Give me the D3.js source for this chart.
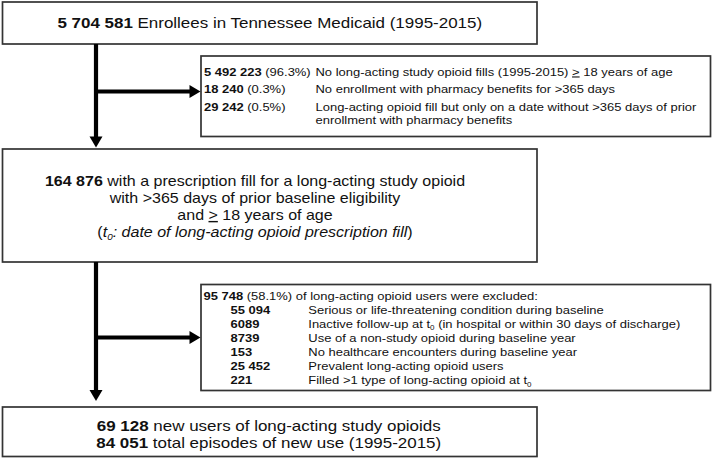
<!DOCTYPE html>
<html><head><meta charset="utf-8">
<script src="https://cdn.jsdelivr.net/npm/d3@7/dist/d3.min.js"></script>
<style>body{margin:0;background:#fff}svg{display:block}text{font-family:"Liberation Sans",Arial,sans-serif;fill:#111}</style>
</head><body><svg id="c" width="713" height="461"></svg>
<script>
// ---- data ----
const totalEnrollees = "5 704 581";
const cohortCount = "164 876";
const finalUsers = "69 128";
const finalEpisodes = "84 051";
const excl1Counts = ["5 492 223", "18 240", "29 242"];
const excl1Pcts = ["(96.3%)", "(0.3%)", "(0.5%)"];
const excl1Labels = [
  ["No long-acting study opioid fills (1995-2015) |>| 18 years of age"],
  ["No enrollment with pharmacy benefits for >365 days"],
  ["Long-acting opioid fill but only on a date without >365 days of prior", "enrollment with pharmacy benefits"]
];
const excl2Total = "95 748";
const excl2Pct = "(58.1%)";
const excl2Counts = ["55 094", "6089", "8739", "153", "25 452", "221"];
const excl2Labels = [
  "Serious or life-threatening condition during baseline",
  "Inactive follow-up at t_0 (in hospital or within 30 days of discharge)",
  "Use of a non-study opioid during baseline year",
  "No healthcare encounters during baseline year",
  "Prevalent long-acting opioid users",
  "Filled >1 type of long-acting opioid at t_0"
];

const svg = d3.select("#c");
const SX = 1.17;

// rich text helper: segs = [{t, b, i, u, sub}]
function rich(x, y, segs, size, anchor, sx) {
  const g = svg.append("g").attr("transform", `translate(${x},${y}) scale(${sx||SX},1)`);
  const t = g.append("text").attr("x", 0).attr("y", 0).attr("font-size", size)
    .attr("text-anchor", anchor || "start");
  segs.forEach(s => {
    const ts = t.append("tspan").text(s.t);
    if (s.b) ts.attr("font-weight", "bold");
    if (s.i) ts.attr("font-style", "italic");
    if (s.u) ts.style("text-decoration", "underline");
    if (s.sub) { ts.attr("font-size", size * 0.62).attr("dy", size * 0.22); }
    if (s.after) ts.attr("dy", -size * 0.22);
  });
  return t;
}
// parse "|>|" underline and "t_0" subscript markers
function parse(str, base) {
  const out = [];
  const re = /\|>\||t_0/g;
  let last = 0, m, pendingUp = false;
  while ((m = re.exec(str)) !== null) {
    if (m.index > last) { out.push(Object.assign({t: str.slice(last, m.index), after: pendingUp}, base)); pendingUp = false; }
    if (m[0] === "|>|") { out.push(Object.assign({t: ">", u: true}, base)); }
    else { out.push(Object.assign({t: "t", after: pendingUp}, base)); out.push(Object.assign({t: "0", sub: true}, base)); pendingUp = true; }
    last = re.lastIndex;
  }
  if (last < str.length) out.push(Object.assign({t: str.slice(last), after: pendingUp}, base));
  return out;
}

// ---- layout ----
const mainX0 = 2.5, mainX1 = 537, sideX0 = 201, sideX1 = 710.5;
const cx = (mainX0 + mainX1) / 2;
const cx2 = 255;
const boxes = [
  {x0: mainX0, y0: 2, x1: mainX1, y1: 44},
  {x0: sideX0, y0: 56, x1: sideX1, y1: 136.5},
  {x0: mainX0, y0: 149, x1: mainX1, y1: 262},
  {x0: sideX0, y0: 284.5, x1: sideX1, y1: 390.5},
  {x0: mainX0, y0: 407, x1: mainX1, y1: 456.5}
];
svg.selectAll("rect.box").data(boxes).enter().append("rect").attr("class", "box")
  .attr("x", d => d.x0).attr("y", d => d.y0)
  .attr("width", d => d.x1 - d.x0).attr("height", d => d.y1 - d.y0)
  .attr("fill", "#fff").attr("stroke", "#333").attr("stroke-width", 1.7);

// arrows
const ax = 96;
const arrows = [
  {x1: ax, y1: 44, x2: ax, y2: 147.5},
  {x1: ax - 2, y1: 91.5, x2: 200.5, y2: 91.5},
  {x1: ax, y1: 262, x2: ax, y2: 401},
  {x1: ax - 2, y1: 337.5, x2: 200.5, y2: 337.5}
];
svg.selectAll("line.arr").data(arrows).enter().append("line").attr("class", "arr")
  .attr("x1", d => d.x1).attr("y1", d => d.y1)
  .attr("x2", d => d.x1 === d.x2 ? d.x2 : d.x2 - 8)
  .attr("y2", d => d.x1 === d.x2 ? d.y2 - 8 : d.y2)
  .attr("stroke", "#000").attr("stroke-width", 4.2);
svg.selectAll("path.head").data(arrows).enter().append("path").attr("class", "head")
  .attr("d", d => d.x1 === d.x2
    ? `M${d.x2 - 6.5},${d.y2 - 11} L${d.x2 + 6.5},${d.y2 - 11} L${d.x2},${d.y2} Z`
    : `M${d.x2 - 11},${d.y2 - 6.5} L${d.x2 - 11},${d.y2 + 6.5} L${d.x2},${d.y2} Z`)
  .attr("fill", "#000");

// ---- main box texts ----
const MF = 14.5;
rich(cx, 28, [{t: totalEnrollees, b: true}, {t: " Enrollees in Tennessee Medicaid (1995-2015)"}], MF, "middle");

const BF = 14, BSX = 1.145;
rich(cx2, 186, [{t: cohortCount, b: true}, {t: " with a prescription fill for a long-acting study opioid"}], BF, "middle", BSX);
rich(cx2, 203, [{t: "with >365 days of prior baseline eligibility"}], BF, "middle", BSX);
rich(cx2, 220, parse("and |>| 18 years of age", {}), BF, "middle", BSX);
rich(cx2, 236.5, [{t: "("}, {t: "t", i: true}, {t: "0", i: true, sub: true}, {t: ": date of long-acting opioid prescription fill", i: true, after: true}, {t: ")"}], BF, "middle", BSX);

rich(cx - 1, 431, [{t: finalUsers, b: true}, {t: " new users of long-acting study opioids"}], MF, "middle");
rich(cx - 1, 448, [{t: finalEpisodes, b: true}, {t: " total episodes of new use (1995-2015)"}], MF, "middle");

// ---- side box 1 ----
const SF = 11, SSX = 1.18;
const s1Base = [75.5, 93, 110.5];
excl1Counts.forEach((c, i) => {
  rich(204, s1Base[i], [{t: c, b: true}, {t: " " + excl1Pcts[i]}], SF, "start", SSX);
  excl1Labels[i].forEach((ln, j) => {
    rich(315.5, s1Base[i] + j * 13.5, parse(ln, {}), SF, "start", SSX);
  });
});

// ---- side box 2 ----
const s2y0 = 299.5, s2dy = 14.15;
rich(203.5, s2y0, [{t: excl2Total, b: true}, {t: " " + excl2Pct + " of long-acting opioid users were excluded:"}], SF, "start", SSX);
excl2Counts.forEach((c, i) => {
  const y = s2y0 + (i + 1) * s2dy;
  rich(230.5, y, [{t: c, b: true}], SF, "start", SSX);
  rich(308.3, y, parse(excl2Labels[i], {}), SF, "start", SSX);
});
</script></body></html>
